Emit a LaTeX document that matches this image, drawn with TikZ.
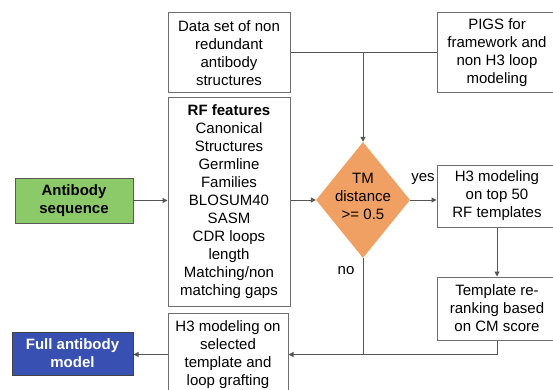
\documentclass[tikz,border=0pt]{standalone}
\usepackage{fontspec}
\setmainfont{Liberation Sans}
\usetikzlibrary{shapes.geometric,arrows.meta}
\definecolor{boxline}{RGB}{110,110,110}
\definecolor{conline}{RGB}{85,85,85}
\definecolor{seqgreen}{RGB}{140,202,105}
\definecolor{modelblue}{RGB}{55,80,178}
\definecolor{tmorange}{RGB}{239,160,98}
\tikzset{
  txt/.style={font=\fontsize{15}{18}\selectfont, align=center},
  box/.style={txt, draw=boxline, line width=1pt, fill=white, inner sep=0pt},
  conn/.style={draw=conline, line width=1pt},
  arr/.style={conn, -{Triangle[length=5pt,width=5pt]}},
}
\begin{document}
\begin{tikzpicture}[x=1pt,y=-1pt]
\useasboundingbox (0,0) rectangle (553,390);
\fill[white] (0,0) rectangle (553,390);

\node[box, minimum width=122, minimum height=80] (ds) at (229,53)
  {Data set of non\\redundant\\antibody\\structures};
\node[box, minimum width=122, minimum height=208] (rf) at (229,202)
  {\textbf{RF features}\\Canonical\\Structures\\Germline\\Families\\BLOSUM40\\SASM\\CDR loops\\length\\Matching/non\\matching gaps};
\node[box, minimum width=120, minimum height=84] (h3sel) at (228,355)
  {H3 modeling on\\selected\\template and\\loop grafting};
\node[box, minimum width=120, minimum height=80] (pigs) at (497,53)
  {PIGS for\\framework and\\non H3 loop\\modeling};
\node[box, minimum width=120, minimum height=62] (h3top) at (497,196)
  {H3 modeling\\on top 50\\RF templates};
\node[box, minimum width=120, minimum height=63] (tmpl) at (497,308.5)
  {Template re-\\ranking based\\on CM score};
\node[box, draw=boxline!80!black, fill=seqgreen, minimum width=118, minimum height=45] (abs) at (74,200.5)
  {\textbf{Antibody}\\\textbf{sequence}};
\node[box, draw=boxline!60!black, fill=modelblue, text=white, minimum width=121, minimum height=43] (full) at (72.5,353.5)
  {\textbf{Full antibody}\\\textbf{model}};
\node[diamond, fill=tmorange, draw=none, minimum width=94, minimum height=116, inner sep=0pt] (dm) at (363,200) {};
\node[txt] (dmt) at (363,196) {TM\\distance\\>= 0.5};

\coordinate (j1) at (363,53);
\coordinate (j2) at (363,354.5);

\draw[conn] (ds.east) -- (pigs.west);
\draw[arr] (j1) -- (dm.north);
\draw[arr] (abs.east) -- (abs.east -| rf.west);
\draw[arr] (dm.west -| rf.east) -- (dm.west);
\draw[arr] (dm.east) -- (dm.east -| h3top.west);
\draw[arr] (h3top.south) -- (tmpl.north);
\draw[arr] (tmpl.south) -- (tmpl.south |- j2) -- (j2 -| h3sel.east);
\draw[conn] (dm.south) -- (j2);
\draw[arr] (h3sel.west |- j2) -- (j2 -| full.east);

\node[txt] (yes) at (423,179) {yes};
\node[txt] (no) at (346,271) {no};
\end{tikzpicture}
\end{document}
